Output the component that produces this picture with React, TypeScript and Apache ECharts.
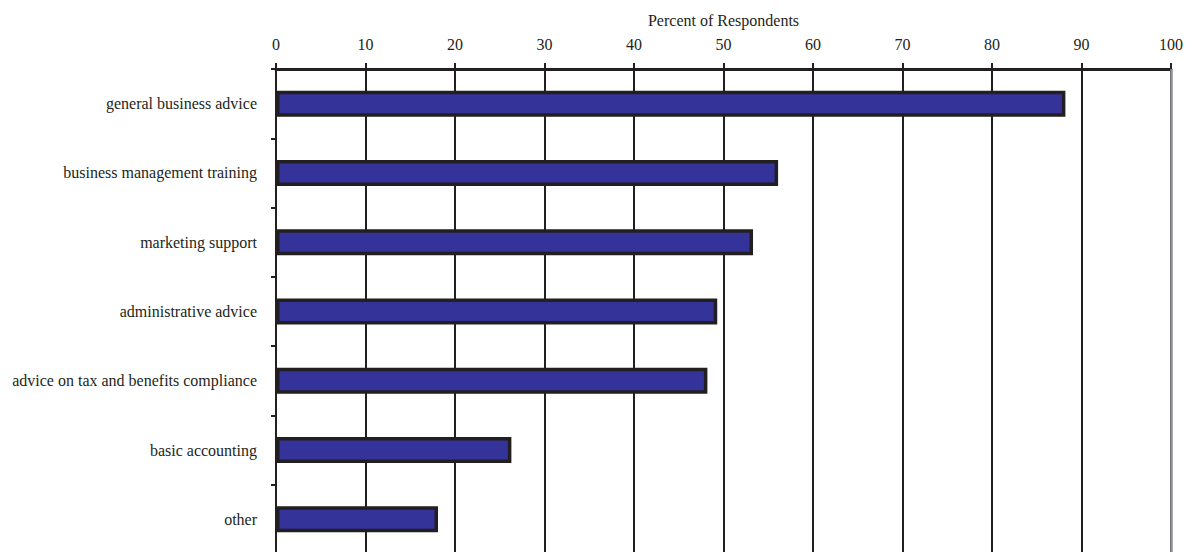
import React, { useEffect, useRef } from "react";
import * as echarts from "echarts";

const categories = [
  "general business advice",
  "business management training",
  "marketing support",
  "administrative advice",
  "advice on tax and benefits compliance",
  "basic accounting",
  "other",
];
const values = [88.2, 56.1, 53.3, 49.3, 48.2, 26.3, 18.1];
const axisTitle = "Percent of Respondents";
const axisMax = 100;

const INK = "#231f20";
const FONT = "'Liberation Serif', 'Times New Roman', serif";

export default function App() {
  const ref = useRef<HTMLDivElement>(null);
  useEffect(() => {
    if (!ref.current) return;
    const chart = echarts.init(ref.current, null, { renderer: "svg" });
    chart.setOption({
      animation: false,
      backgroundColor: "#ffffff",
      textStyle: { fontFamily: FONT, color: INK },
      grid: { left: 276, right: 22, top: 69, bottom: 6, containLabel: false },
      xAxis: {
        type: "value",
        position: "top",
        min: 0,
        max: axisMax,
        interval: 10,
        name: axisTitle,
        nameLocation: "middle",
        nameGap: 41,
        nameTextStyle: { fontFamily: FONT, fontSize: 16, color: INK },
        axisLine: { show: true, lineStyle: { color: INK, width: 3 } },
        axisTick: { show: true, length: 6, lineStyle: { color: INK, width: 2 } },
        axisLabel: { fontFamily: FONT, fontSize: 16, color: INK, margin: 17 },
        splitLine: { show: true, lineStyle: { color: INK, width: 2 } },
      },
      yAxis: {
        type: "category",
        inverse: true,
        data: categories,
        axisLine: { show: true, lineStyle: { color: INK, width: 2 } },
        axisTick: { show: true, length: 5, lineStyle: { color: INK, width: 2 } },
        axisLabel: { fontFamily: FONT, fontSize: 16, color: INK, margin: 19 },
        splitLine: { show: false },
      },
      series: [
        {
          type: "bar",
          data: values,
          barWidth: 26,
          itemStyle: { color: "#333399", borderColor: INK, borderWidth: 3.5 },
          markLine: {
            silent: true,
            symbol: "none",
            label: { show: false },
            lineStyle: { color: "#8e9196", width: 2.5, type: "solid" },
            data: [{ xAxis: axisMax }],
          },
        },
      ],
    });
    return () => chart.dispose();
  }, []);
  return (
    <div style={{ position: "fixed", left: 0, top: 0, width: 1193, height: 552, overflow: "hidden", background: "#fff" }}>
      <div ref={ref} style={{ width: 1193, height: 560 }} />
    </div>
  );
}
